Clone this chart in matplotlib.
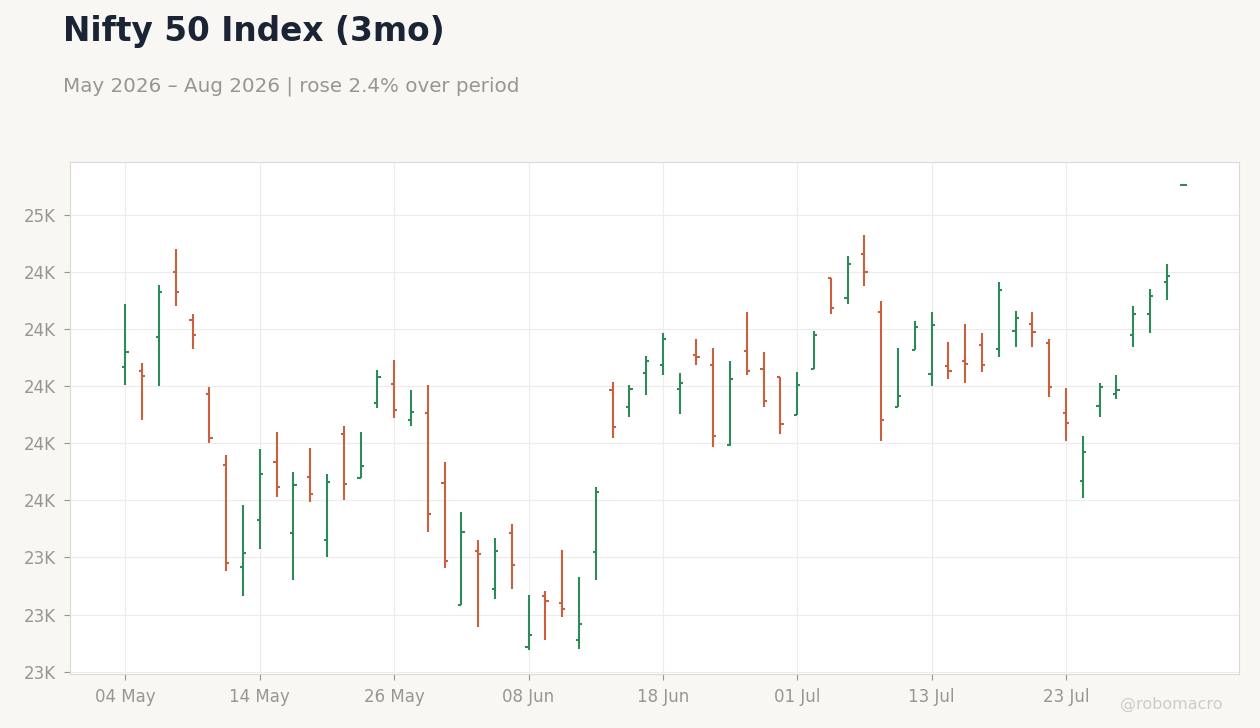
#!/usr/bin/python
""" Nifty 50 OHLC bar chart, last 3 months """
import matplotlib
matplotlib.use('Agg')
import matplotlib.pyplot as plt
from matplotlib.ticker import FuncFormatter
import numpy as np
import pandas as pd

TITLE = 'Nifty 50 Index (3mo)'
SUBTITLE = 'May 2026 \u2013 Aug 2026 | rose 2.4% over period'

# trading days (market holidays dropped)
DATES = pd.bdate_range('2026-05-04', '2026-08-03')
HOLIDAYS = pd.to_datetime(['2026-05-27', '2026-06-26'])
DATES = DATES[~DATES.isin(HOLIDAYS)]

OPENS = [24067, 24053, 24171, 24399, 24234, 23972, 23724, 23367, 23531, 23734,
         23486, 23681, 23462, 23834, 23677, 23943, 24009, 23883, 23908, 23660,
         23233, 23422, 23289, 23485, 23086, 23264, 23240, 23110, 23418, 23988,
         23929, 24045, 24073, 23992, 24108, 24073, 23795, 24125, 24062, 24034,
         23898, 24062, 24378, 24308, 24465, 24259, 23929, 24126, 24042, 24070,
         24088, 24143, 24129, 24193, 24218, 24151, 23906, 23668, 23931, 23973,
         24179, 24253, 24364, 24704]
HIGHS = [24289, 24083, 24356, 24482, 24254, 23999, 23758, 23583, 23779, 23841,
         23698, 23784, 23693, 23861, 23840, 24057, 24092, 23987, 24005, 23735,
         23560, 23462, 23469, 23518, 23270, 23284, 23428, 23333, 23648, 24015,
         24005, 24107, 24187, 24047, 24166, 24135, 24089, 24261, 24121, 24034,
         24051, 24194, 24378, 24457, 24531, 24300, 24135, 24230, 24261, 24156,
         24219, 24188, 24366, 24265, 24262, 24167, 23993, 23825, 24013, 24041,
         24283, 24342, 24430, 24704]
LOWS = [24006, 23883, 24000, 24283, 24129, 23801, 23353, 23265, 23430, 23612,
        23322, 23593, 23401, 23600, 23677, 23925, 23890, 23862, 23488, 23362,
        23233, 23156, 23254, 23289, 23075, 23110, 23191, 23079, 23320, 23820,
        23894, 23971, 24038, 23902, 24073, 23786, 23790, 24041, 23926, 23832,
        23898, 24060, 24252, 24287, 24350, 23808, 23929, 24126, 24000, 24025,
        24011, 24051, 24101, 24137, 24137, 23962, 23808, 23609, 23892, 23955,
        24137, 24188, 24301, 24704]
CLOSES = [24119, 24035, 24332, 24329, 24178, 23818, 23381, 23416, 23692, 23647,
          23655, 23621, 23663, 23658, 23722, 24034, 23918, 23911, 23551, 23387,
          23488, 23411, 23422, 23373, 23128, 23247, 23219, 23166, 23628, 23859,
          23992, 24087, 24167, 24013, 24104, 23825, 24024, 24055, 23947, 23867,
          24006, 24178, 24273, 24430, 24399, 23883, 23965, 24206, 24213, 24053,
          24079, 24074, 24336, 24239, 24190, 23997, 23871, 23770, 23997, 23987,
          24253, 24318, 24385, 24704]

UP_COLOR = '#2e8b57'
DOWN_COLOR = '#c9603f'
BG = '#f8f7f4'
GREY = '#9a9590'


def plot_ohlc():
    """ draw the OHLC bars """
    fig = plt.figure(figsize=(12.6, 7.28), dpi=100, facecolor=BG)
    ax = fig.add_axes([0.0556, 0.0735, 0.9277, 0.704])
    ax.set_facecolor('white')

    opens = np.array(OPENS)
    highs = np.array(HIGHS)
    lows = np.array(LOWS)
    closes = np.array(CLOSES)
    xs = np.arange(len(opens))
    colors = [UP_COLOR if c >= o else DOWN_COLOR for o, c in zip(opens, closes)]

    tick_w = 0.19
    ax.vlines(xs, lows, highs, colors=colors, linewidth=1.5, zorder=3)
    ax.hlines(opens, xs - tick_w, xs, colors=colors, linewidth=1.5, zorder=3)
    ax.hlines(closes, xs, xs + tick_w, colors=colors, linewidth=1.5, zorder=3)

    ax.set_xlim(-3.3, len(xs) + 2.3)
    ax.set_ylim(22990, 24786)

    ticks = xs[::8]
    ax.set_xticks(ticks)
    ax.set_xticklabels([DATES[i].strftime('%d %b') for i in ticks])
    ax.set_yticks(np.arange(23000, 24601, 200))
    ax.yaxis.set_major_formatter(FuncFormatter(lambda v, p: '%.0fK' % (v / 1000)))

    ax.grid(True, color='#ececec', linewidth=0.8, zorder=0)
    for sp in ax.spines.values():
        sp.set_color('#dcdad6')
        sp.set_linewidth(0.8)
    ax.tick_params(colors=GREY, labelsize=12, length=4, width=0.8, pad=6)

    fig.text(0.05, 0.979, TITLE, fontsize=23.6, fontweight='bold',
             color='#1b2434', va='top', ha='left')
    fig.text(0.05, 0.882, SUBTITLE, fontsize=14.3, color=GREY,
             va='center', ha='left')
    fig.text(0.97, 0.032, '@robomacro', fontsize=11.5, color='#cfccc8',
             va='center', ha='right')

    fig.savefig('out.png', dpi=100, facecolor=BG)


if __name__ == '__main__':
    plot_ohlc()
